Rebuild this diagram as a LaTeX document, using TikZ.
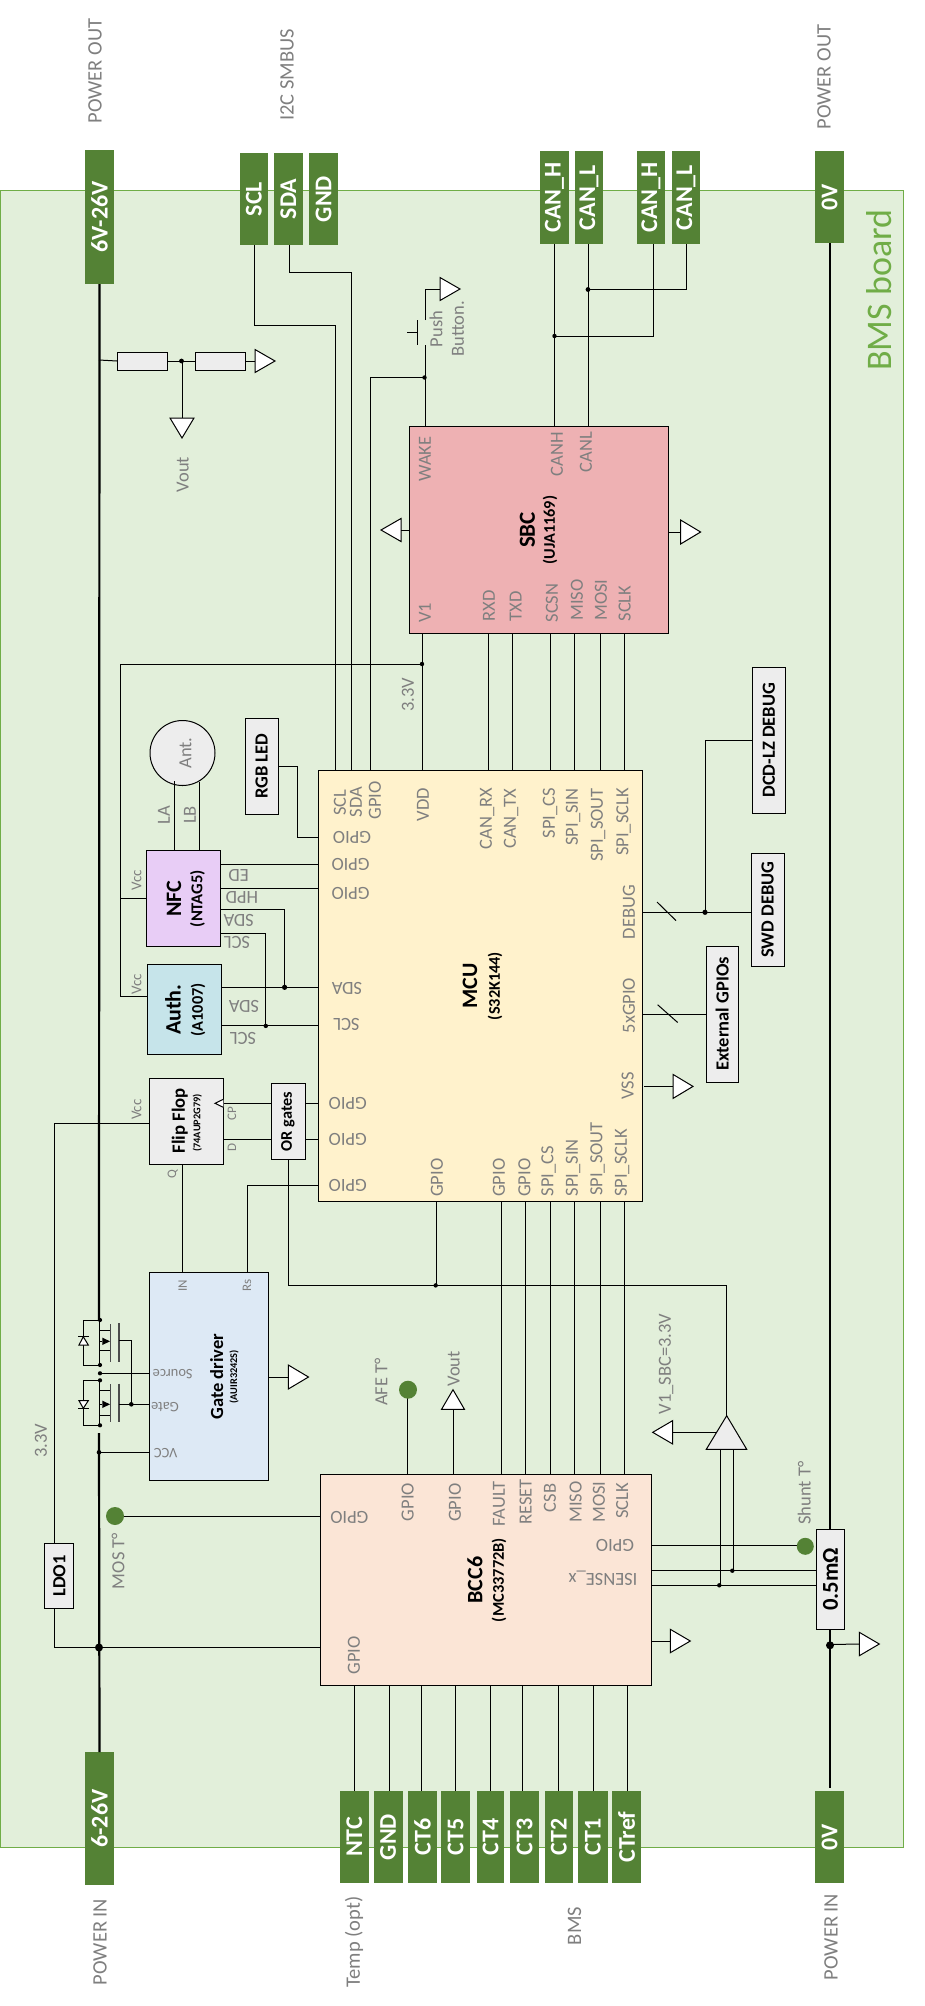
\documentclass[tikz,border=0pt]{standalone}
\usepackage{fontspec}
\usepackage{graphicx}
\setmainfont{Carlito}
\definecolor{boardfill}{HTML}{E2EFDA}
\definecolor{boardline}{HTML}{70AD47}
\definecolor{conn}{HTML}{548235}
\definecolor{lab}{HTML}{7F7F7F}
\definecolor{gbox}{HTML}{EDEDED}
\definecolor{sbcfill}{HTML}{EEB1B3}
\definecolor{mcufill}{HTML}{FFF2CC}
\definecolor{nfcfill}{HTML}{E8CDF6}
\definecolor{authfill}{HTML}{C6E4EA}
\definecolor{gatefill}{HTML}{DDE9F5}
\definecolor{bccfill}{HTML}{FBE5D6}
\newcommand\fs[1]{\fontsize{#1}{#1}\selectfont}
\newcounter{tc}
\newcommand\bx[7]{\node[boxn,#6,minimum width={(#4-#2)*1pt},minimum height={(#5-#3)*1pt}] (#1) at ({(#2+#4)/2},{(#3+#5)/2}) {#7};}
\newcommand\cn[6]{\bx{#1}{#2}{#3}{#4}{#5}{connbox}{\rotatebox{90}{\fs{24}\bfseries #6}}}
\newcommand\gb[6]{\bx{#1}{#2}{#3}{#4}{#5}{fill=gbox}{\rotatebox{90}{\bfseries #6}}}
\newcommand\tv[4][]{\stepcounter{tc}\node[tvs,#1] (t\arabic{tc}) at (#2,#3) {#4};}
\newcommand\tu[4][]{\stepcounter{tc}\node[tus,#1] (t\arabic{tc}) at (#2,#3) {#4};}
\newcommand\ttl[5]{\stepcounter{tc}\node[tvs,text=black,font=\fs{#1}\bfseries] (t\arabic{tc}) at (#3,#4) {#2};}
\newcommand\triH[5]{\coordinate (#1) at (#2,#3);\draw[gtri] (#1) ++(0,-#5) -- ++(#4,#5) -- ++(-#4,#5) -- cycle;}
\newcommand\triV[5]{\coordinate (#1) at (#2,#3);\draw[gtri] (#1) ++(-#5,0) -- ++(#5,#4) -- ++(#5,-#4) -- cycle;}
\newcommand\jd[3]{\fill[black] (#1,#2) circle (#3);}
\begin{document}
\begin{tikzpicture}[x=1pt,y=-1pt,
  boxn/.style={draw=black,line width=1pt,inner sep=0pt,outer sep=0pt,font=\fs{18.5}},
  connbox/.style={draw=none,fill=conn,text=white},
  tvs/.style={rotate=90,text=lab,font=\fs{18.5},inner sep=0pt},
  tus/.style={rotate=180,text=lab,font=\fs{18.5},inner sep=0pt},
  w/.style={line width=1pt,draw=black},
  th/.style={line width=2.2pt,draw=black},
  gtri/.style={draw=black,line width=1pt,fill=white,line join=miter}]
\useasboundingbox (0,0) rectangle (925,2006);
% board
\bx{board}{0}{190.6}{903}{1847.5}{fill=boardfill,draw=boardline}{}
\stepcounter{tc}\node[tvs,text=boardline,font=\fs{36}] (t\arabic{tc}) at (879,290) {BMS board};
% outer labels
\tv[font=\fs{20.5}]{95}{71}{POWER OUT}
\tv[font=\fs{20.5}]{287}{75}{I2C SMBUS}
\tv[font=\fs{20.5}]{824}{77}{POWER OUT}
\tv[font=\fs{20.5}]{100}{1942}{POWER IN}
\tv[font=\fs{20.5}]{354}{1942}{Temp (opt)}
\tv[font=\fs{20.5}]{574.5}{1926}{BMS}
\tv[font=\fs{20.5}]{831}{1937}{POWER IN}
% connectors
\cn{pA}{85}{150}{114}{284}{6V-26V}
\cn{pSCL}{240}{153}{267.5}{245}{SCL}
\cn{pSDA}{273.5}{153}{303}{245}{SDA}
\cn{pGND}{309}{153}{338}{245}{GND}
\cn{pH1}{540}{151}{569}{244}{CAN\_H}
\cn{pL1}{575}{151}{603}{244}{CAN\_L}
\cn{pH2}{637}{151}{665}{244}{CAN\_H}
\cn{pL2}{672}{151}{700}{244}{CAN\_L}
\cn{pZ}{815}{151}{844}{243}{0V}
\cn{pB}{85}{1752}{114}{1885}{6-26V}
\cn{pNTC}{339.5}{1791}{369}{1883}{NTC}
\cn{pG2}{373.6}{1791}{402.5}{1883}{GND}
\cn{pC6}{408}{1791}{437}{1883}{CT6}
\cn{pC5}{441}{1791}{470}{1883}{CT5}
\cn{pC4}{477}{1791}{504}{1883}{CT4}
\cn{pC3}{510}{1791}{539}{1883}{CT3}
\cn{pC2}{544.5}{1791}{573}{1883}{CT2}
\cn{pC1}{578}{1791}{607.5}{1883}{CT1}
\cn{pCr}{612}{1791}{641}{1883}{CTref}
\cn{pY}{815}{1791}{844}{1883}{0V}
% main blocks
\bx{sbc}{409}{426}{668}{633.5}{fill=sbcfill}{}
\bx{mcu}{318}{770.5}{642}{1201.7}{fill=mcufill}{}
\bx{bcc}{320}{1474.3}{651.7}{1685.6}{fill=bccfill}{}
\bx{nfc}{146}{850.5}{220}{946}{fill=nfcfill}{}
\bx{auth}{147}{964.5}{221.6}{1054.5}{fill=authfill}{}
\bx{gd}{149.7}{1272.5}{268}{1480}{fill=gatefill}{}
\bx{ff}{149.7}{1078.5}{223.3}{1164.3}{fill=gbox}{}
\gb{org}{271}{1083.5}{305}{1159.4}{\fs{16.3}OR gates}
\gb{rgb}{245}{718}{278}{814.4}{RGB LED}
\gb{swd}{751}{853.4}{784}{966}{SWD DEBUG}
\gb{dcd}{752}{667.4}{785.5}{813}{DCD-LZ DEBUG}
\gb{ext}{706}{946}{738.4}{1082}{External GPIOs}
\gb{ldo}{44.8}{1543}{73.7}{1608.6}{LDO1}
\bx{sh}{816.3}{1529.3}{844.7}{1629.3}{fill=gbox}{\rotatebox{90}{\fs{22.7}\bfseries 0.5mΩ}}
\bx{r1}{117}{352}{167.5}{370}{fill=gbox}{}
\bx{r2}{195}{352}{245}{370}{fill=gbox}{}
\node[boxn,circle,fill=gbox,minimum size=65pt] (ant) at (182.5,753) {};
% ground / supply triangles
\triH{gR}{255}{361}{20}{11.5}
\triV{gV}{182}{418}{20}{12}
\triH{gW}{440}{289}{20}{11.5}
\triH{gSL}{401}{530}{-20}{11.5}
\triH{gSR}{680.6}{532}{20}{12}
\triH{gM}{673}{1086.4}{20}{12}
\triH{gG}{288.3}{1377}{20.2}{12}
\triV{gVb}{453}{1409.4}{-19.7}{11.5}
\triH{gBR}{670.3}{1641}{20}{11.7}
\triH{gZ}{859.3}{1644}{20}{11.7}
\triH{gA}{672.7}{1432.3}{-20}{11.7}
\coordinate (ampT) at (726.7,1415.7);
\coordinate (ampL) at (706.3,1449.3);
\coordinate (ampR) at (746.7,1449.3);
\draw[line width=1pt,fill=gbox] (ampT) -- (ampL) -- (ampR) -- cycle;
% column/row helpers
\foreach \n/\v in {xRX/488,xTX/512.7,xCS/550,xMI/574.5,xMO/600,xCK/624.6,xV1/422,xSC/335.3,xSD/351,xG/370,xWK/425,
  xLA/174,xLB/199,xF/501,xR/525.6,xNT/354,xGN/389,xC6/421,xC5/455,xC4/490,xC3/522.7,xC2/558,xC1/593,xCr/627,
  xAI/720.3,xAJ/733.3,xAM/726.7,xMG/436,xVc/120,xL/54,xP/284.6,xQ/265.8,xQo/182,xRs/247.5,xOb/288,xRG/297.6,xD/705,xAF/407,xCL/99,xZ/830,xHH/653,xLL/686,xDV/182,xGt/131.3}
  {\coordinate (\n) at (\v,0);}
\foreach \n/\v in {yJ3/664,yNV/898.6,yAV/996.4,yED/864.6,yHP/888.6,ySA/909.4,ySL/933,yMA/987.3,yML/1025.9,yCP/1103.4,yDD/1139.5,
  yFV/1123.3,yGP/1185,yOB/1285.4,yRG/766,yRM/837,yDB/912.3,yDC/740,yEX/1014,yMO/1516,yS1/1545.3,yS2/1570.3,yS3/1585.3,
  yLD/1647.5,yGT/1404.3,ySR/1373.3,yVC/1452.3}
  {\coordinate (\n) at (0,\v);}
% SBC up
\draw[w] (254.6,245) -- (254.6,325) -| (xSC |- mcu.north);
\draw[w] (289.3,245) -- (289.3,272) -| (xSD |- mcu.north);
\draw[w] (xG |- mcu.north) -- (370,377) -- (425,377);
\jd{424.5}{377.5}{2.2}
\draw[w] (554.5,244) -- (554.5,426);
\draw[w] (588.7,244) -- (588.7,426);
\draw[w] (xHH |- pH2.south) |- (554.5,336);
\draw[w] (xLL |- pL2.south) |- (588,289);
\jd{554.5}{336}{2.2}
\jd{588}{289.5}{2.4}
\draw[w] (xWK |- sbc.north) -- (425,345);
\draw[w] (417,320) -- (417,345) (407,332) -- (417,332);
\draw[w] (425,320) -- (425,289) -- (gW);
\draw[w] (sbc.west |- gSL) -- (gSL);
\draw[w] (sbc.east |- gSR) -- (gSR);
% power rails
\draw[th] (pA.south) -- (99,1320);
\draw[th] (99,1433) -- (pB.north);
\draw[th] (xZ |- pZ.south) -- (xZ |- sh.north);
\draw[th] (xZ |- sh.south) -- (830,1788);
\draw[w] (99,360) -- (r1.west);
\draw[w] (r1.east) -- (r2.west);
\draw[w] (r2.east) -- (gR);
\jd{181.5}{361}{2.4}
\draw[w] (182,361) -- (gV);
% SBC-MCU
\foreach \c in {xRX,xTX,xCS,xMI,xMO,xCK,xV1} {\draw[w] (\c |- sbc.south) -- (\c |- mcu.north);}
\draw[w] (xV1 |- yJ3) -| (xVc |- yAV) -- (yAV -| auth.west);
\draw[w] (xVc |- yNV) -- (yNV -| nfc.west);
\jd{422}{664}{2.2}
% Antenna
\draw[w] (xLA |- nfc.north) -- (174,781);
\draw[w] (xLB |- nfc.north) -- (199,782);
% RGB
\draw[w] (rgb.east |- yRG) -- (xRG |- yRG) -- (xRG |- yRM) -- (yRM -| mcu.west);
% NFC/Auth
\draw[w] (yED -| nfc.east) -- (yED -| mcu.west);
\draw[w] (yHP -| nfc.east) -- (yHP -| mcu.west);
\draw[w] (ySA -| nfc.east) -| (xP |- yMA);
\draw[w] (ySL -| nfc.east) -| (xQ |- yML);
\draw[w] (yMA -| auth.east) -- (yMA -| mcu.west);
\draw[w] (yML -| auth.east) -- (yML -| mcu.west);
\jd{284.6}{987.3}{2.6}
\jd{265.8}{1025.9}{2.2}
% Flip-flop
\draw[w] (yFV -| ff.west) -| (xL |- ldo.north);
\draw[w] (yCP -| ff.east) -- (yCP -| org.west);
\draw[w] (yDD -| ff.east) -- (yDD -| org.west);
\draw[w] (yCP -| org.east) -- (yCP -| mcu.west);
\draw[w] (yDD -| org.east) -- (yDD -| mcu.west);
\draw[w,fill=white] (223.3,1099.3) -- (215,1103.3) -- (223.3,1107.3);
\draw[w] (xQo |- ff.south) -- (xQo |- gd.north);
\draw[w] (xRs |- gd.north) |- (yGP -| mcu.west);
\draw[w] (xOb |- org.south) -- (xOb |- yOB) -- (xAM |- yOB) -- (ampT);
\draw[w] (xMG |- mcu.south) -- (xMG |- yOB);
\jd{435.7}{1285.4}{2.2}
% Debug
\draw[w] (yDB -| mcu.east) -- (yDB -| swd.west);
\draw[w] (xD |- yDB) |- (yDC -| dcd.west);
\jd{705}{912.3}{2.6}
\draw[w] (657,902) -- (676,920.6);
\draw[w] (yEX -| mcu.east) -- (yEX -| ext.west);
\draw[w] (657.6,1004.7) -- (677.7,1022.5);
\draw[w] (644,1086.4) -- (gM);
% MCU-BCC
\foreach \c in {xF,xR,xCS,xMI,xMO,xCK} {\draw[w] (\c |- mcu.south) -- (\c |- bcc.north);}
\draw[w] (xAF |- bcc.north) -- (407,1390);
\draw[w] (453,1474.3) -- (gVb);
% BCC bottom
\foreach \c in {xNT,xGN,xC6,xC5,xC4,xC3,xC2,xC1,xCr} {\draw[w] (\c |- bcc.south) -- (\c |- pNTC.north);}
% BCC left
\draw[w] (yMO -| bcc.west) -- (115,1516);
\draw[w] (xL |- ldo.south) |- (yLD -| bcc.west);
\jd{99}{1647.5}{4}
\fill[conn] (115,1516) circle (9);
\fill[conn] (408,1389.7) circle (9);
% BCC right
\draw[w] (yS1 -| bcc.east) -- (805,1545.3);
\fill[conn] (805.3,1546.3) circle (8.5);
\draw[w] (yS2 -| bcc.east) -- (yS2 -| sh.west);
\draw[w] (yS3 -| bcc.east) -- (yS3 -| sh.west);
\draw[w] (xAI |- ampL) -- (xAI |- yS3);
\draw[w] (xAJ |- ampR) -- (xAJ |- yS2);
\jd{719.3}{1585.3}{2.2}
\jd{732.3}{1570.7}{2.2}
\draw[w] (716.3,1432.3) -- (gA);
\draw[w] (bcc.east |- gBR) -- (gBR);
\draw[w] (830,1644.5) -- (gZ);
\jd{830}{1645.3}{4}
% FETs
\foreach \a/\b/\c/\d/\e in {1320/1365/1330.7/1350.7/1341.3,1380.3/1425.3/1390.7/1415/1404.3}{
  \draw[w] (99.5,\a) -- (99.5,\b);
  \draw[w] (99.5,\c) -- (110.7,\c) (99.5,\d) -- (110.7,\d) (99.5,\e) -- (102.3,\e);
  \fill[black] (102.3,\e-3.7) -- (110,\e) -- (102.3,\e+3.7) -- cycle;
  \draw[line width=1.1pt,draw=black!70] (110.7,\a+4) -- (110.7,\b-3.5) (119,\a+3.3) -- (119,\b-3.5);
  \draw[w] (99.5,\a) -- (83.3,\a) -- (83.3,\b) -- (99.5,\b);
  \jd{100}{\a}{2.1}
  \jd{100}{\b}{2.1}
}
\draw[w,fill=white] (79,1345) -- (88.3,1345) -- (83.3,1336.7) -- cycle;
\draw[w] (78.3,1336.7) -- (89,1336.7);
\draw[w,fill=white] (79,1400.7) -- (88.3,1400.7) -- (83.3,1408.3) -- cycle;
\draw[w] (78.3,1408.3) -- (89,1408.3);
\jd{100}{1373.3}{2.1}
\jd{131.3}{1404.3}{2.3}
\jd{99}{1452.3}{2.3}
\draw[w] (119,1340.3) -- (131.3,1340.3) -- (131.3,1404.3);
\draw[w] (119,1404.3) -- (yGT -| gd.west);
\draw[w] (100,1373.3) -- (ySR -| gd.west);
\draw[w] (99,1452.3) -- (yVC -| gd.west);
\draw[w] (gd.east |- gG) -- (gG);
% titles
\ttl{23}{SBC}{527.5}{530}{}
\ttl{16.3}{(UJA1169)}{550}{530}{}
\ttl{22}{MCU}{470}{986}{}
\ttl{16.3}{(S32K144)}{495}{986}{}
\ttl{22}{BCC6}{475}{1580}{}
\ttl{16.4}{(MC33772B)}{499}{1580}{}
\ttl{22}{NFC}{174}{898.6}{}
\ttl{16.6}{(NTAG5)}{197.4}{898.6}{}
\ttl{22}{Auth.}{173}{1009.7}{}
\ttl{16.3}{(A1007)}{198}{1009.7}{}
\ttl{18.7}{Flip Flop}{179.7}{1120.8}{}
\ttl{10.3}{(74AUP2G79)}{197.4}{1123}{}
\ttl{18.5}{Gate driver}{216.7}{1376.7}{}
\ttl{10.3}{(AUIR3242S)}{234}{1376.7}{}
% Misc labels
\tv{182.7}{474.5}{Vout}
\tv{436}{329}{Push}
\tv{458}{329}{Button.}
\tv{408}{695}{3.3V}
\tv{41}{1441}{3.3V}
\tv{118}{1561}{MOS T°}
\tv{381}{1382}{AFE T°}
\tv{453.7}{1369}{Vout}
\tv{666}{1364}{V1\_SBC=3.3V}
\tv{804.3}{1493}{Shunt T°}
\tv{185.6}{753}{Ant.}
\tv{164}{815}{LA}
\tv{190}{815}{LB}
\tv[font=\fs{15}]{136.7}{880}{Vcc}
\tv[font=\fs{15}]{136.7}{984}{Vcc}
\tv[font=\fs{15}]{136.7}{1109.6}{Vcc}
\tv[font=\fs{13}]{232}{1113.8}{CP}
\tv[font=\fs{13}]{232}{1147.8}{D}
\tv[font=\fs{13}]{172.7}{1174}{Q}
\tv[font=\fs{13}]{182.7}{1285.5}{IN}
\tv[font=\fs{13}]{247}{1285.5}{Rs}
% SBC pins
\tv{425}{459}{WAKE}
\tv{557}{454}{CANH}
\tv{586}{452}{CANL}
\tv{425}{613}{V1}
\tv{489}{606}{RXD}
\tv{515.6}{606}{TXD}
\tv{552}{603}{SCSN}
\tv{577}{600}{MISO}
\tv{601}{600}{MOSI}
\tv{624.6}{603.5}{SCLK}
% MCU pins
\tv{340}{802.5}{SCL}
\tv{356}{802}{SDA}
\tv{375}{800.5}{GPIO}
\tv{423}{804.5}{VDD}
\tv{487}{818.6}{CAN\_RX}
\tv{511}{818.6}{CAN\_TX}
\tv{550}{813}{SPI\_CS}
\tv{573}{817}{SPI\_SIN}
\tv{598}{825}{SPI\_SOUT}
\tv{623.5}{822}{SPI\_SCLK}
\tv{629}{912}{DEBUG}
\tv{629}{1005.6}{5xGPIO}
\tv{627.6}{1086}{VSS}
\tv{437}{1177.6}{GPIO}
\tv{499}{1177.6}{GPIO}
\tv{524.5}{1177.6}{GPIO}
\tv{548.6}{1171}{SPI\_CS}
\tv{573}{1167.7}{SPI\_SIN}
\tv{597.5}{1159}{SPI\_SOUT}
\tv{622}{1163}{SPI\_SCLK}
\tu{352}{837}{GPIO}
\tu{350.6}{864.6}{GPIO}
\tu{350.6}{893}{GPIO}
\tu{347}{988}{SDA}
\tu{346.5}{1024.6}{SCL}
\tu{347.7}{1103}{GPIO}
\tu{347.7}{1139.5}{GPIO}
\tu{347.7}{1185}{GPIO}
\tu{238.7}{875.4}{ED}
\tu{242}{897.4}{HPD}
\tu{238.7}{920}{SDA}
\tu{237}{942.5}{SCL}
\tu{244}{1006}{SDA}
\tu{243}{1038}{SCL}
\tu[font=\fs{14.4}]{172.7}{1374}{Source}
\tu[font=\fs{14.4}]{165}{1406.7}{Gate}
\tu[font=\fs{14.4}]{165.7}{1452.7}{VCC}
% BCC pins
\tv{407.8}{1502}{GPIO}
\tv{455}{1502.6}{GPIO}
\tv{499}{1504}{FAULT}
\tv{525.6}{1502}{RESET}
\tv{550}{1498}{CSB}
\tv{575.7}{1502}{MISO}
\tv{599}{1502}{MOSI}
\tv{622.3}{1500.6}{SCLK}
\tv{354}{1655.4}{GPIO}
\tu{349.4}{1517.4}{GPIO}
\tu{615}{1545.8}{GPIO}
\tu{603}{1578.5}{ISENSE\_x}
\end{tikzpicture}
\end{document}
